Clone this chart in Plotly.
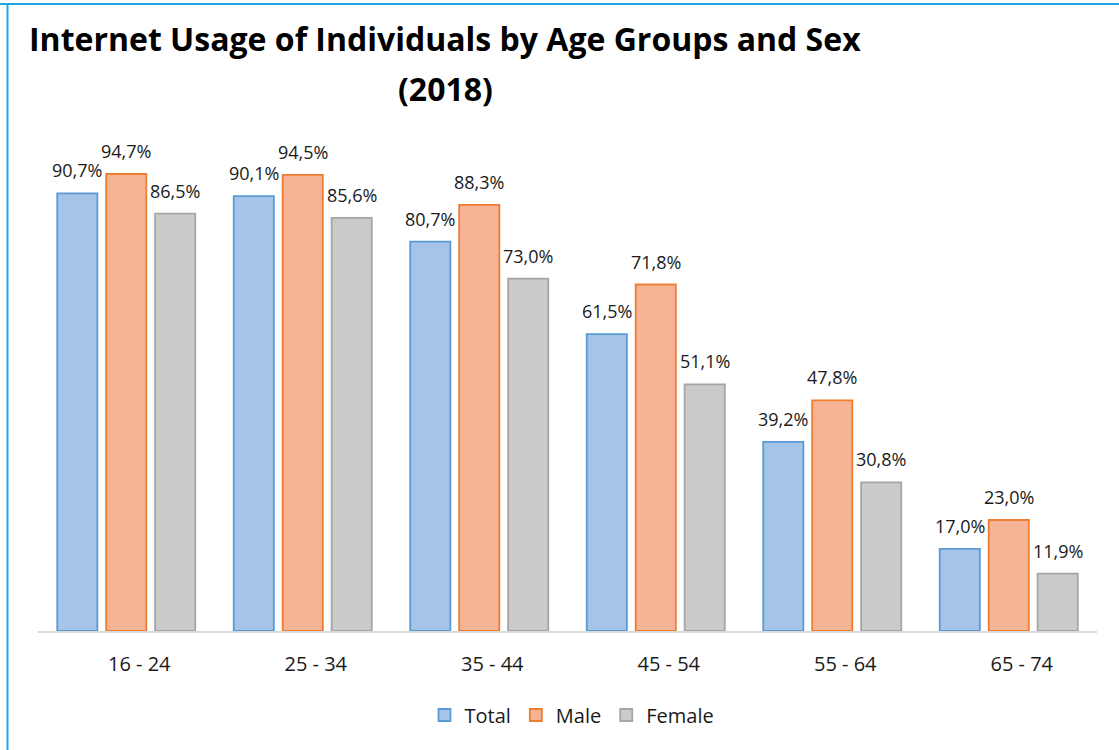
import plotly.graph_objects as go

categories = ["16 - 24", "25 - 34", "35 - 44", "45 - 54", "55 - 64", "65 - 74"]
total = [90.7, 90.1, 80.7, 61.5, 39.2, 17.0]
male = [94.7, 94.5, 88.3, 71.8, 47.8, 23.0]
female = [86.5, 85.6, 73.0, 51.1, 30.8, 11.9]

series = [
    ("Total", total, "#A6C4E8", "#5B9BD5"),
    ("Male", male, "#F6B396", "#ED7D31"),
    ("Female", female, "#CBCBCB", "#A5A5A5"),
]

W, H = 1119, 750
L, R, T, B = 38, 22, 146, 119
pw = W - L - R
ph = H - T - B

def px(x):
    return (x - L) / pw

def py(y):
    return (H - B - y) / ph

fig = go.Figure()
for name, vals, fill, line in series:
    fig.add_trace(go.Bar(
        name=name, x=categories, y=vals,
        marker=dict(color=fill, line=dict(color=line, width=1.8)),
        hoverinfo="skip",
    ))

shifts = [-49, 0, 49]
for (name, vals, fill, line), xs in zip(series, shifts):
    for c, v in zip(categories, vals):
        fig.add_annotation(
            x=c, y=v, xref="x", yref="y", text=f"{v:.1f}%".replace(".", ","),
            showarrow=False, xshift=xs, yshift=9, yanchor="bottom",
            font=dict(family="Open Sans", size=18, color="#1a1a1a"),
        )

fig.add_annotation(x=px(445), y=py(39), xref="paper", yref="paper",
                   text="<b>Internet Usage of Individuals by Age Groups and Sex</b>",
                   showarrow=False, xanchor="center", yanchor="middle",
                   font=dict(family="Open Sans", size=32, color="#000000"))
fig.add_annotation(x=px(445), y=py(88), xref="paper", yref="paper",
                   text="<b>(2018)</b>",
                   showarrow=False, xanchor="center", yanchor="middle",
                   font=dict(family="Open Sans", size=32, color="#000000"))

# chart frame (top and left edges)
fig.add_shape(type="line", xref="paper", yref="paper",
              x0=px(0), x1=px(W), y0=py(4), y1=py(4),
              line=dict(color="#1AA7E6", width=2))
fig.add_shape(type="line", xref="paper", yref="paper",
              x0=px(7.5), x1=px(7.5), y0=py(4), y1=py(H),
              line=dict(color="#1AA7E6", width=2))

fig.update_layout(
    width=W, height=H,
    margin=dict(l=L, r=R, t=T, b=B, pad=0),
    paper_bgcolor="white", plot_bgcolor="white",
    barmode="group", bargap=0.168, bargroupgap=0.18,
    showlegend=True,
    legend=dict(orientation="h", x=px(572), xanchor="center", y=py(715), yanchor="middle",
                font=dict(family="Open Sans", size=20, color="#1a1a1a"),
                itemwidth=30, tracegroupgap=0),
    xaxis=dict(showline=True, linecolor="#D9D9D9", linewidth=1.5, ticks="",
               tickfont=dict(family="Open Sans", size=20, color="#1a1a1a"),
               ticklabelshift=13, ticklabelstandoff=14, showgrid=False, zeroline=False),
    yaxis=dict(range=[0, 100.5], visible=False, showgrid=False, zeroline=False),
)

fig.write_html("out.html")
